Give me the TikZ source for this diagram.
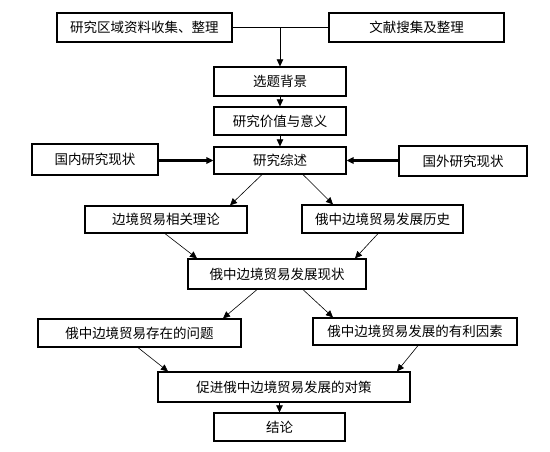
\documentclass[tikz,border=0pt]{standalone}
\usepackage{fontspec}
\newfontfamily\cjk{Noto Sans CJK SC}
\usetikzlibrary{arrows.meta}

\tikzset{%
  every box/.style={
    draw,
    line width=1.2pt,
    inner sep=0pt,
    font=\cjk\fontsize{13.5}{16}\selectfont
  },
  flow/.style={
    -{Triangle[length=7pt,width=6.5pt]},
    line width=0.6pt
  },
  feed/.style={
    -{Triangle[length=7pt,width=6.5pt]},
    line width=2.2pt
  },
}

\begin{document}
\begin{tikzpicture}[x=1pt, y=-1pt]
\useasboundingbox (0,0) rectangle (550,452);

\foreach \n/\x/\y/\w/\h/\t in {
    quyu/144.5/27.5/175/29/研究区域资料收集、整理,
    wenxian/416.5/27.5/175/29/文献搜集及整理,
    xuanti/280/81.5/132/29/选题背景,
    jiazhi/280/121/132/28/研究价值与意义,
    zongshu/280/160.5/132/27/研究综述,
    guonei/95/159.5/126/31/国内研究现状,
    guowai/463/161/128/30/国外研究现状,
    lilun/166/219.5/162/27/边境贸易相关理论,
    lishi/382.5/219/161/28/俄中边境贸易发展历史,
    xianzhuang/277/274/178/30/俄中边境贸易发展现状,
    wenti/139.5/333/203/28/俄中边境贸易存在的问题,
    yinsu/415/331.5/204/27/俄中边境贸易发展的有利因素,
    duice/284/387/252/30/促进俄中边境贸易发展的对策,
    jielun/279.5/427/131/28/结论}
  \node [every box, minimum width=\w pt, minimum height=\h pt] (\n) at (\x,\y) {\t};

% sources meet and go down
\draw [line width=1.8pt] (quyu.east) -- (wenxian.west);
\draw [flow] (quyu.east -| xuanti.north) -- (xuanti.north);

\foreach \a/\b in {xuanti/jiazhi, jiazhi/zongshu, duice/jielun}
  \draw [flow] (\a.south -| \b.north) -- (\b.north);

\draw [feed] (guonei.east |- zongshu.west) -- (zongshu.west);
\draw [feed] (guowai.west |- zongshu.east) -- (zongshu.east);

% slanted links
\foreach \a/\sa/\b/\sb in {
    zongshu/-18/lilun/64,
    zongshu/23/lishi/-49.5,
    lilun/-1/xianzhuang/-80,
    lishi/-4.5/xianzhuang/78,
    xianzhuang/-20/wenti/83.5,
    xianzhuang/26/yinsu/-82,
    wenti/-1.5/duice/-116,
    yinsu/3/duice/113}
  \draw [flow] ([xshift=\sa pt]\a.south) -- ([xshift=\sb pt]\b.north);

\end{tikzpicture}
\end{document}
